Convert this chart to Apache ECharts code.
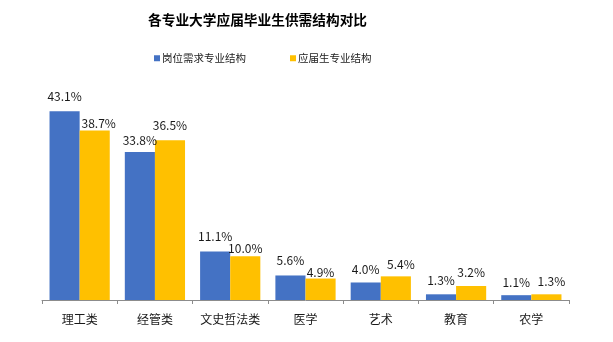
<!DOCTYPE html>
<html>
<head>
<meta charset="utf-8">
<script src="https://cdn.jsdelivr.net/npm/echarts@6/dist/echarts.min.js"></script>
<style>
  html, body { margin: 0; padding: 0; background: #fff; }
  #chart { width: 613px; height: 342px; }
</style>
</head>
<body>
<div id="chart"></div>
<script>
// Supply/demand structure of graduates by field of study (%)
const titleText = '各专业大学应届毕业生供需结构对比';
const categories = ['理工类', '经管类', '文史哲法类', '医学', '艺术', '教育', '农学'];
const demandName = '岗位需求专业结构';
const supplyName = '应届生专业结构';
const demandValues = [43.1, 33.8, 11.1, 5.6, 4.0, 1.3, 1.1];
const supplyValues = [38.7, 36.5, 10.0, 4.9, 5.4, 3.2, 1.3];

// Label placement nudges: [gap above bar, horizontal shift]
const demandLabelNudge = [[9, 0], [6, 0], [9, 0], [9, 0], [7, 0], [8, 0], [7, 0]];
const supplyLabelNudge = [[1, 4], [9, 0], [2, 0], [0, 0], [6, 5], [8, 0], [7, 5]];

const FONT = '"Noto Sans CJK SC", "Microsoft YaHei", sans-serif';

function buildData(values, nudges) {
  return values.map((v, i) => ({
    value: v,
    label: { distance: nudges[i][0], offset: [nudges[i][1], 0] }
  }));
}

const labelStyle = {
  show: true,
  position: 'top',
  color: '#1a1a1a',
  fontSize: 12,
  fontFamily: FONT,
  formatter: p => p.value.toFixed(1) + '%'
};

const chart = echarts.init(document.getElementById('chart'));
chart.setOption({
  animation: false,
  backgroundColor: '#ffffff',
  title: {
    text: titleText,
    left: 148,
    top: 13,
    padding: 0,
    textStyle: { fontFamily: FONT, fontSize: 13.7, fontWeight: 'bold', color: '#000' }
  },
  legend: {
    top: 48,
    left: 149,
    itemWidth: 6,
    itemHeight: 6,
    itemGap: 44,
    icon: 'rect',
    textStyle: { fontFamily: FONT, fontSize: 10.5, color: '#1a1a1a', padding: [0, 0, 0, -3] },
    data: [demandName, supplyName]
  },
  grid: { left: 42, right: 44, top: 81, bottom: 42 },
  xAxis: {
    type: 'category',
    data: categories,
    axisLine: { lineStyle: { color: '#8c8c8c', width: 1 } },
    axisTick: { show: true, interval: 0, length: 4, lineStyle: { color: '#8c8c8c' } },
    axisLabel: { interval: 0, color: '#1a1a1a', fontSize: 12, fontFamily: FONT, margin: 13 }
  },
  yAxis: {
    type: 'value',
    min: 0,
    max: 50,
    show: false,
    splitLine: { show: false }
  },
  series: [
    {
      name: demandName,
      type: 'bar',
      data: buildData(demandValues, demandLabelNudge),
      itemStyle: { color: '#4472C4' },
      barGap: '0%',
      barCategoryGap: '20%',
      label: labelStyle
    },
    {
      name: supplyName,
      type: 'bar',
      data: buildData(supplyValues, supplyLabelNudge),
      itemStyle: { color: '#FFC000' },
      label: labelStyle
    }
  ]
});
</script>
</body>
</html>
